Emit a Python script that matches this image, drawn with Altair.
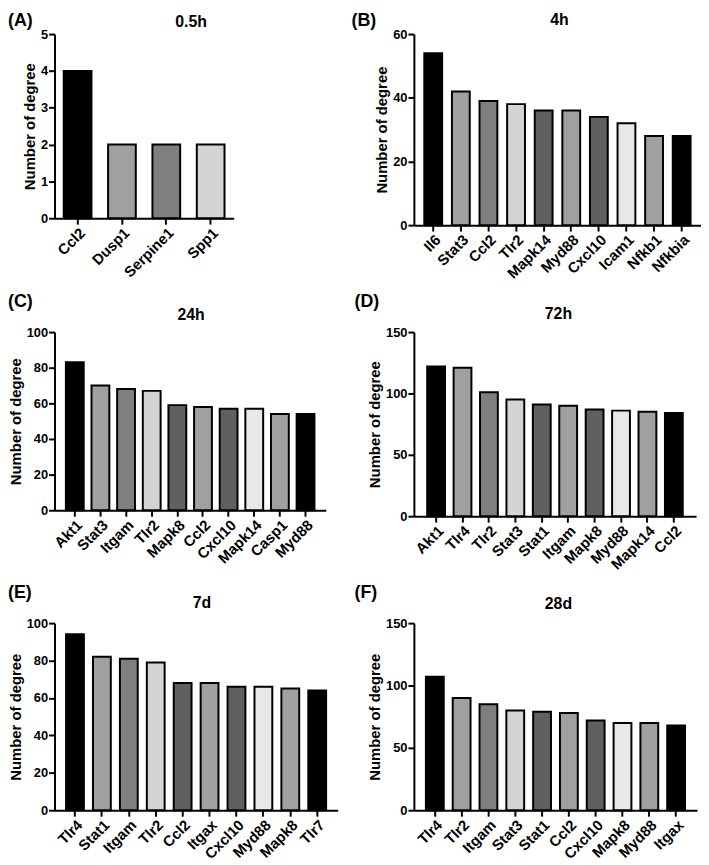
import altair as alt
import pandas as pd

FONT = "Liberation Sans"

# ---- data ----
genes_a = ["Ccl2", "Dusp1", "Serpine1", "Spp1"]
deg_a = [4, 2, 2, 2]

genes_b = ["Il6", "Stat3", "Ccl2", "Tlr2", "Mapk14", "Myd88", "Cxcl10", "Icam1", "Nfkb1", "Nfkbia"]
deg_b = [54, 42, 39, 38, 36, 36, 34, 32, 28, 28]

genes_c = ["Akt1", "Stat3", "Itgam", "Tlr2", "Mapk8", "Ccl2", "Cxcl10", "Mapk14", "Casp1", "Myd88"]
deg_c = [83, 70, 68, 67, 59, 58, 57, 57, 54, 54]

genes_d = ["Akt1", "Tlr4", "Tlr2", "Stat3", "Stat1", "Itgam", "Mapk8", "Myd88", "Mapk14", "Ccl2"]
deg_d = [122, 121, 101, 95, 91, 90, 87, 86, 85, 84]

genes_e = ["Tlr4", "Stat1", "Itgam", "Tlr2", "Ccl2", "Itgax", "Cxcl10", "Myd88", "Mapk8", "Tlr7"]
deg_e = [94, 82, 81, 79, 68, 68, 66, 66, 65, 64]

genes_f = ["Tlr4", "Tlr2", "Itgam", "Stat3", "Stat1", "Ccl2", "Cxcl10", "Mapk8", "Myd88", "Itgax"]
deg_f = [107, 90, 85, 80, 79, 78, 72, 70, 70, 68]

# ---- style ----
PALETTE = ["#000000", "#a0a0a0", "#7f7f7f", "#d4d4d4", "#606060",
           "#a0a0a0", "#606060", "#e8e8e8", "#a0a0a0", "#000000"]


def panel(letter, title, genes, vals, ymax, step, w, h, pad_outer, bar_size,
          letter_dx, letter_dy, title_x, title_dy):
    df = pd.DataFrame({"gene": genes, "degree": vals,
                       "shade": PALETTE[:len(genes)]})
    bars = alt.Chart(df).mark_bar(stroke="black", strokeWidth=2, size=bar_size).encode(
        x=alt.X("gene:N", sort=genes, title=None,
                scale=alt.Scale(paddingInner=0, paddingOuter=pad_outer),
                axis=alt.Axis(labelAngle=-45, labelFontSize=15)),
        y=alt.Y("degree:Q", title="Number of degree",
                scale=alt.Scale(domain=[0, ymax], nice=False),
                axis=alt.Axis(values=list(range(0, ymax + 1, step)))),
        fill=alt.Fill("shade:N", scale=None),
    )
    lt = alt.Chart(alt.Data(values=[{"t": letter}])).mark_text(
        align="left", baseline="middle", fontSize=18, fontWeight="bold", font=FONT,
        color="black").encode(text="t:N", x=alt.value(letter_dx), y=alt.value(letter_dy))
    tt = alt.Chart(alt.Data(values=[{"t": title}])).mark_text(
        align="center", baseline="middle", fontSize=16, fontWeight="bold", font=FONT,
        color="black").encode(text="t:N", x=alt.value(title_x), y=alt.value(title_dy))
    return alt.layer(bars, lt, tt).properties(width=w, height=h)


pA = panel("(A)", "0.5h", genes_a, deg_a, 5, 1, 181, 186, 0.02, 28, -47, -13, 138, -12)
pB = panel("(B)", "4h", genes_b, deg_b, 60, 20, 290, 193, 0.2, 18, -63, -13, 147, -14)
pC = panel("(C)", "24h", genes_c, deg_c, 100, 20, 274, 180, 0.29, 18, -47, -30, 138, -17)
pD = panel("(D)", "72h", genes_d, deg_d, 150, 50, 285, 186, 0.34, 18, -60, -30, 146, -18)
pE = panel("(E)", "7d", genes_e, deg_e, 100, 20, 286, 189, 0.26, 18, -47, -30, 149, -20)
pF = panel("(F)", "28d", genes_f, deg_f, 150, 50, 286, 189, 0.28, 18, -60, -30, 146, -19)

chart = alt.concat(
    pA, pB, pC, pD, pE, pF, columns=2, bounds="flush",
    spacing={"row": 108, "column": 77},
).properties(
    padding=0
).configure_view(stroke=None).configure_axis(
    domainColor="black", domainWidth=2, tickColor="black", tickWidth=2, tickSize=6,
    labelColor="black", labelFont=FONT, labelFontSize=13, labelFontWeight="bold",
    labelPadding=1, titlePadding=3, titleColor="black", titleFont=FONT, titleFontSize=15,
    titleFontWeight="bold", grid=False,
)

chart.save("out.html", embed_options={"renderer": "svg", "actions": False})
